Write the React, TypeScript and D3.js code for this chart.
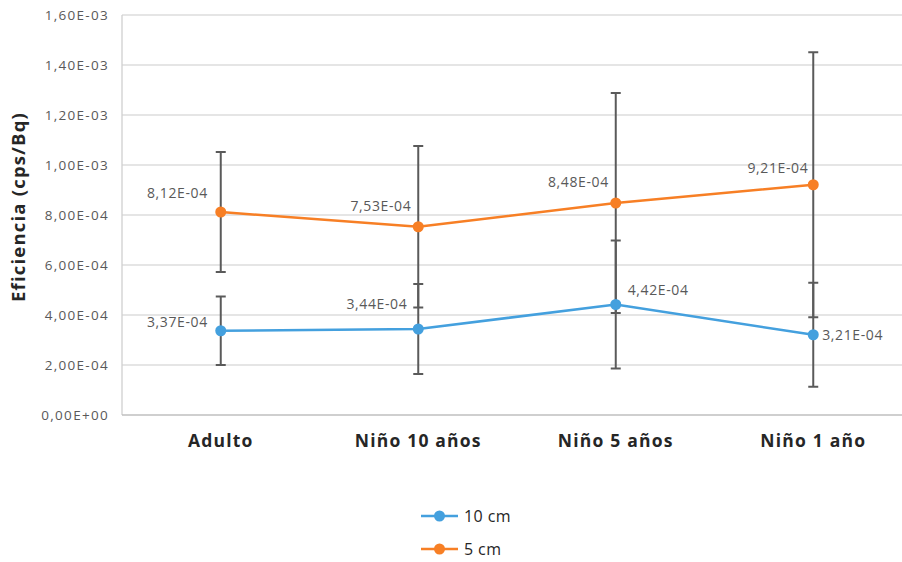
import React from "react";
import * as d3 from "d3";

const categories = ["Adulto", "Niño 10 años", "Niño 5 años", "Niño 1 año"];
const values10 = [3.37e-4, 3.44e-4, 4.42e-4, 3.21e-4];
const err10 = [1.37e-4, 1.8e-4, 2.56e-4, 2.08e-4];
const values5 = [8.12e-4, 7.53e-4, 8.48e-4, 9.21e-4];
const err5 = [2.4e-4, 3.23e-4, 4.4e-4, 5.3e-4];
const labels10 = ["3,37E-04", "3,44E-04", "4,42E-04", "3,21E-04"];
const labels5 = ["8,12E-04", "7,53E-04", "8,48E-04", "9,21E-04"];
const yTicks = [0, 2e-4, 4e-4, 6e-4, 8e-4, 1e-3, 1.2e-3, 1.4e-3, 1.6e-3];
const yTickLabels = ["0,00E+00", "2,00E-04", "4,00E-04", "6,00E-04", "8,00E-04", "1,00E-03", "1,20E-03", "1,40E-03", "1,60E-03"];
const seriesNames = ["10 cm", "5 cm"];

const BLUE = "#44A0DE";
const ORANGE = "#F77F25";
const FONT = "'Open Sans', 'Liberation Sans', sans-serif";

export default function App() {
  const left = 122, right = 912, top = 15, bottom = 415;
  const x = d3.scaleBand<string>().domain(categories).range([left, right]);
  const cx = (c: string) => (x(c) as number) + x.bandwidth() / 2;
  const y = d3.scaleLinear().domain([0, 1.6e-3]).range([bottom, top]);
  const line = d3.line<number>().x((_, i) => cx(categories[i])).y((v) => y(v));

  const off5: [number, number, string][] = [
    [-13, -14, "end"], [-7, -16, "end"], [-7, -16, "end"], [-5, -12, "end"],
  ];
  const off10: [number, number, string][] = [
    [-13, -4, "end"], [-11, -20, "end"], [12, -10, "start"], [9, 5, "start"],
  ];

  const series = [
    { vals: values10, errs: err10, color: BLUE, labels: labels10, off: off10 },
    { vals: values5, errs: err5, color: ORANGE, labels: labels5, off: off5 },
  ];

  return (
    <svg width={902} height={562} style={{ position: "absolute", left: 0, top: 0, background: "#fff" }} fontFamily={FONT}>
      {yTicks.map((t, i) => (
        <g key={i}>
          {i > 0 && <line x1={left} x2={902} y1={y(t)} y2={y(t)} stroke="#dcdcdc" strokeWidth={1.3} />}
          <text x={left - 13} y={y(t) + 5} textAnchor="end" fontSize={13.5} letterSpacing={1.3} fill="#595959">{yTickLabels[i]}</text>
        </g>
      ))}
      <line x1={left} x2={left} y1={top} y2={bottom} stroke="#cfcfcf" strokeWidth={1.3} />
      <line x1={left} x2={902} y1={bottom} y2={bottom} stroke="#bfbfbf" strokeWidth={1.5} />
      {categories.map((c) => (
        <text key={c} x={cx(c)} y={447} textAnchor="middle" fontSize={17.5} letterSpacing={1.2} fontWeight="bold" fill="#262626">{c}</text>
      ))}
      <text transform={`translate(25,${207}) rotate(-90)`} textAnchor="middle" fontSize={18.5} letterSpacing={1.2} fontWeight="bold" fill="#262626">Eficiencia (cps/Bq)</text>

      {series.map((s, si) => (
        <g key={si}>
          <path d={line(s.vals) as string} fill="none" stroke={s.color} strokeWidth={2.5} />
        </g>
      ))}
      {series.map((s, si) => (
        <g key={"e" + si}>
          {s.vals.map((v, i) => {
            const px = cx(categories[i]);
            const y1 = y(v + s.errs[i]), y2 = y(v - s.errs[i]);
            return (
              <g key={i} stroke="#5a5a5a" strokeWidth={2}>
                <line x1={px} x2={px} y1={y1} y2={y2} />
                <line x1={px - 5} x2={px + 5} y1={y1} y2={y1} />
                <line x1={px - 5} x2={px + 5} y1={y2} y2={y2} />
              </g>
            );
          })}
        </g>
      ))}
      {series.map((s, si) => (
        <g key={"p" + si}>
          {s.vals.map((v, i) => (
            <circle key={i} cx={cx(categories[i])} cy={y(v)} r={5.5} fill={s.color} />
          ))}
          {s.vals.map((v, i) => (
            <text key={"l" + i} x={cx(categories[i]) + s.off[i][0]} y={y(v) + s.off[i][1]} textAnchor={s.off[i][2]} fontSize={14} letterSpacing={0.6} fill="#595959">{s.labels[i]}</text>
          ))}
        </g>
      ))}

      {seriesNames.map((n, i) => (
        <g key={n} transform={`translate(0,${516 + i * 33})`}>
          <line x1={421} x2={458} y1={0} y2={0} stroke={series[i].color} strokeWidth={2.5} />
          <circle cx={439.5} cy={0} r={5.5} fill={series[i].color} />
          <text x={464} y={6} fontSize={16} letterSpacing={0.4} fill="#262626">{n}</text>
        </g>
      ))}
    </svg>
  );
}
